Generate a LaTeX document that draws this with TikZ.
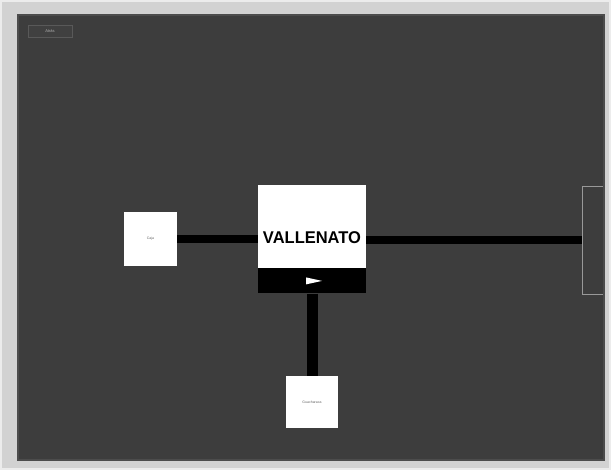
\documentclass[tikz,border=0pt]{standalone}
\usepackage{fontspec}
\setmainfont{Liberation Sans}
\usetikzlibrary{positioning,calc}

\definecolor{panel}{HTML}{3D3D3D}
\definecolor{rim}{HTML}{D2D2D2}

\begin{document}
\begin{tikzpicture}[x=1pt, y=-1pt,
    whitebox/.style = {draw=none, fill=white, inner sep=0pt},
    blackbar/.style = {draw=none, fill=black, inner sep=0pt},
    link/.style = {draw=black, line width=8pt},
    tinytext/.style = {font=\fontsize{3.5}{4}\selectfont, text=gray!80!black}]
    % page
    \useasboundingbox (0,0) rectangle (611,470);
    \path[fill=panel](0,0)rectangle(611,470);

    % Atras
    \node[draw=gray!70!black, fill=black!75, minimum width=44, minimum height=12, inner sep=0pt,
          font=\fontsize{4}{5}\selectfont, text=gray!60](atras)at(50,31){Atrás};

    % cuadros
    \node[whitebox, minimum width=108, minimum height=83](ctr)at(312,226.5){};
    \node[font=\fontsize{17}{19}\selectfont\bfseries, text=black, inner sep=0pt, xscale=0.97](ctrtxt)at(312,238){VALLENATO};
    \node[blackbar, minimum width=108, minimum height=25, below=0 of ctr](bar){};
    \path[fill=white]($(bar.center)+(-6,-3.5)$)--($(bar.center)+(10,0)$)--($(bar.center)+(-6,3.5)$)--cycle;

    \node[whitebox, minimum width=53, minimum height=54](caja)at(150.5,239){};
    \node[tinytext](cajatxt)at(caja.center){Caja};
    \node[whitebox, minimum width=52, minimum height=52](guach)at(312,402){};
    \node[tinytext](guachtxt)at(guach.center){Guacharaca};
    \node[draw=gray!80, line width=1pt, fill=panel, minimum width=40, minimum height=108, inner sep=0pt](acordeon)at(602,240.5){};

    % conexiones
    \path[link](caja.east)--(ctr.west |- caja.east);
    \path[link](acordeon.west -| ctr.east)--(acordeon.west);
    \path[link, line width=11pt](bar.south)--(guach.north);

    % marco
    \path[fill=rim, even odd rule](0,0)rectangle(611,470)(18,15)rectangle(604,460);
    \path[draw=black!70, line width=1.5pt](18,15)rectangle(604,460);
    \path[draw=white!85!gray, line width=2pt](1,1)rectangle(610,469);
\end{tikzpicture}
\end{document}
